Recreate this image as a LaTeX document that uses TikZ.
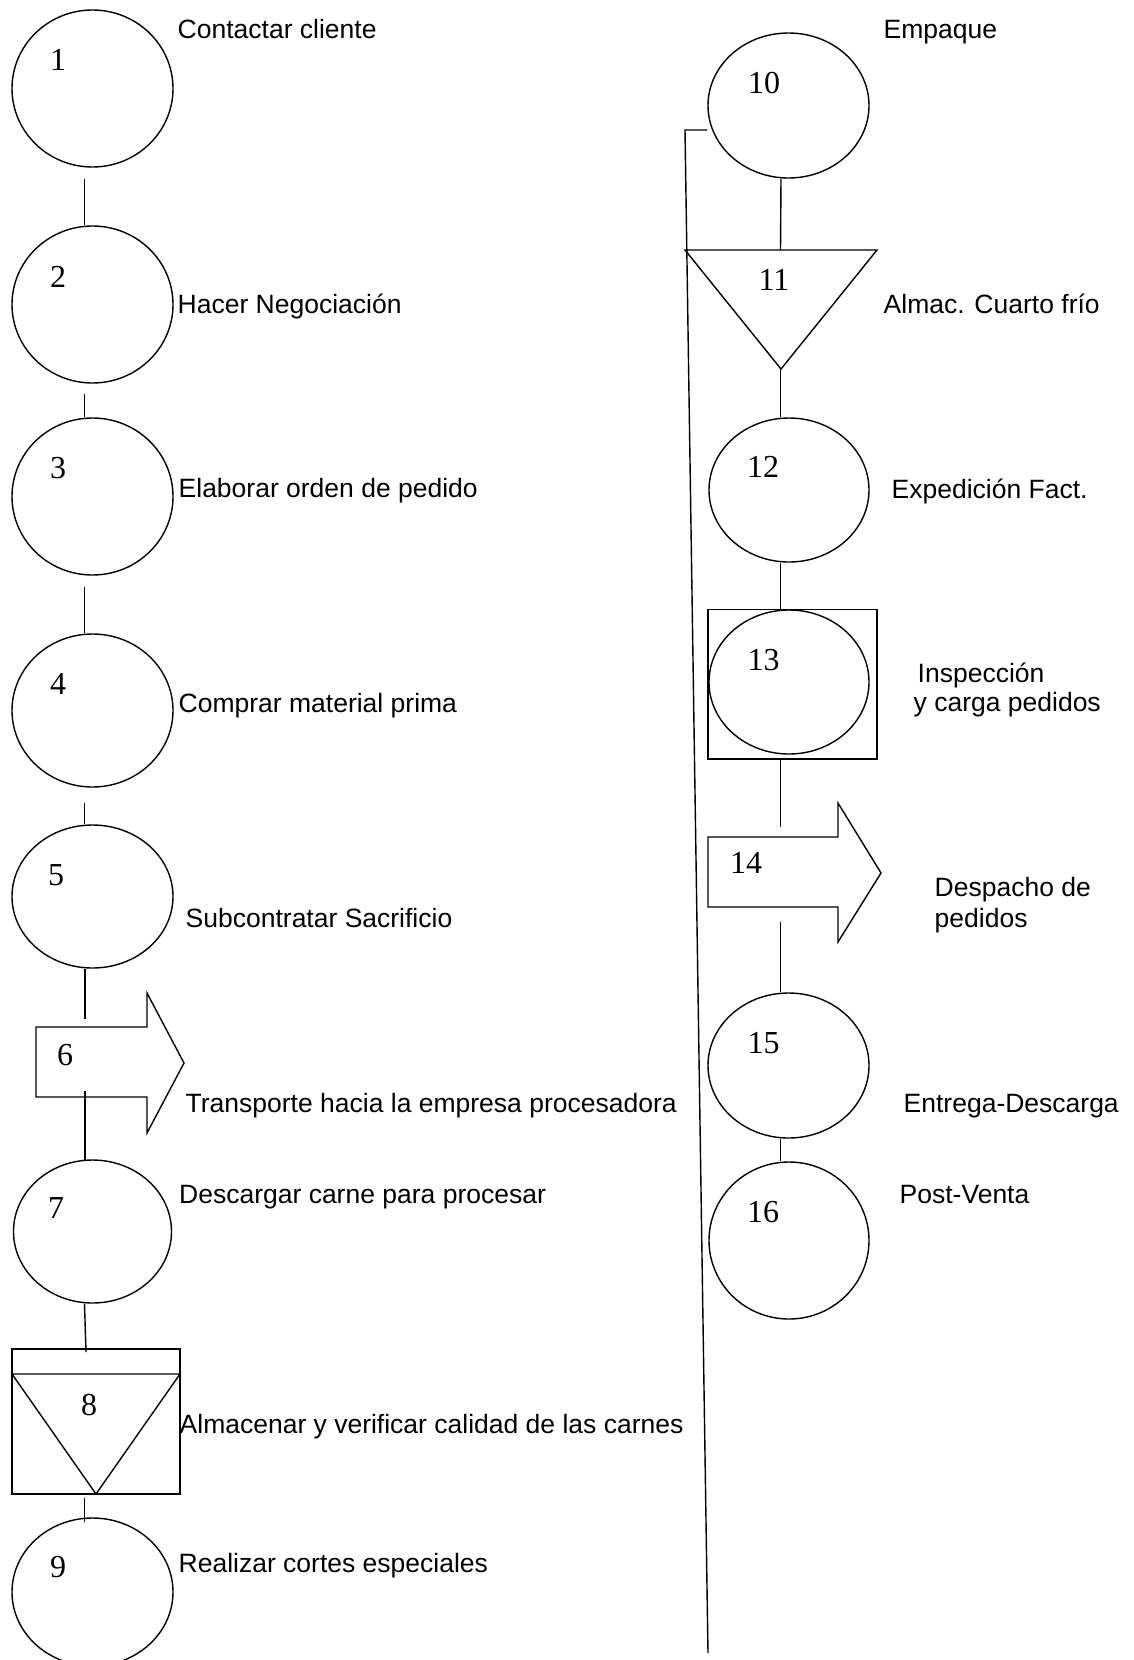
\documentclass[tikz,border=0pt]{standalone}
\usepackage{fontspec}
\setmainfont{Liberation Sans}
\newfontfamily\numfont{Liberation Serif}
\usetikzlibrary{shapes.geometric}
\begin{document}
\begin{tikzpicture}[x=1pt,y=-1pt,line width=1.4pt,
  proc/.style={draw,ellipse,inner sep=0pt,minimum width=161pt,minimum height=#1},
  box/.style={inner sep=0pt,outer sep=0pt},
  num/.style={inner sep=0pt,font=\numfont\fontsize{32}{36}\selectfont},
  lbl/.style={inner sep=0pt,anchor=base west,font=\fontsize{26.5}{31}\selectfont}]
\useasboundingbox (0,0) rectangle (1134,1660);

% ---------- left column ----------
\node[proc=157pt] (c1) at (92.5,88.5) {};
\node[proc=157pt] (c2) at (92.5,304.5) {};
\node[proc=157pt] (c3) at (92.5,496.5) {};
\node[proc=153pt] (c4) at (92.5,710.5) {};
\node[proc=143pt] (c5) at (92.5,896.5) {};
\node[box,minimum width=111pt,minimum height=70pt] (a6) at (91.5,1062) {};
\draw (a6.north west) -- (a6.north east) -- ++(0,-34) -- ++(37,70) -- ++(-37,70) -- ++(0,-36) -- (a6.south west) -- cycle;
\node[proc=143pt,minimum width=158pt] (c7) at (92.5,1231.5) {};
\node[box,draw,minimum width=168pt,minimum height=145pt] (b8) at (96,1421.5) {};
\draw ([yshift=-25pt]b8.north west) -- ([yshift=-25pt]b8.north east) -- (b8.south) -- cycle;
\node[proc=148pt] (c9) at (92.5,1592) {};

\draw ([xshift=-8pt,yshift=-11pt]c1.south) -- ([xshift=-8pt]c2.north);
\draw ([xshift=-8pt,yshift=-10pt]c2.south) -- ([xshift=-8pt]c3.north);
\draw ([xshift=-8pt,yshift=-11pt]c3.south) -- ([xshift=-8pt]c4.north);
\draw ([xshift=-8pt,yshift=-15pt]c4.south) -- ([xshift=-8pt]c5.north);
\draw ([xshift=-7.5pt]c5.south) -- ([xshift=-6.5pt,yshift=8pt]a6.north);
\draw ([xshift=-6.5pt,yshift=6pt]a6.south) -- ([xshift=-7.5pt,yshift=-2pt]c7.north);
\draw ([xshift=-8pt]c7.south) -- ([xshift=-10pt,yshift=-3pt]b8.north);
\draw ([xshift=-11.5pt,yshift=-4pt]b8.south) -- ([xshift=-8pt,yshift=-5pt]c9.north);

\node[num] (n1) at (58,60) {1};
\node[num] (n2) at (58,277) {2};
\node[num] (n3) at (58,468) {3};
\node[num] (n4) at (58,684) {4};
\node[num] (n5) at (56,875) {5};
\node[num] (n6) at (65,1055) {6};
\node[num] (n7) at (56,1208) {7};
\node[num] (n8) at (89,1405) {8};
\node[num] (n9) at (58,1567) {9};

\node[lbl] (l1) at (177,38) {Contactar cliente};
\node[lbl] (l2) at (177,313) {Hacer Negociación};
\node[lbl] (l3) at (178,497.5) {Elaborar orden de pedido};
\node[lbl] (l4) at (178,712) {Comprar material prima};
\node[lbl] (l5) at (185,927) {Subcontratar Sacrificio};
\node[lbl] (l6) at (185,1112) {Transporte hacia la empresa procesadora};
\node[lbl] (l7) at (178.5,1203) {Descargar carne para procesar};
\node[lbl] (l8) at (179,1433) {Almacenar y verificar calidad de las carnes};
\node[lbl] (l9) at (178,1572) {Realizar cortes especiales};

% ---------- right column ----------
\node[proc=145pt] (c10) at (788.5,105.5) {};
\node[box,minimum width=192pt,minimum height=119pt] (t11) at (781,309.5) {};
\draw (t11.north west) -- (t11.north east) -- (t11.south) -- cycle;
\node[proc=144pt,minimum width=160pt] (c12) at (789,490) {};
\node[box,draw,minimum width=169pt,minimum height=149.5pt] (b13) at (792.5,684.3) {};
\node[proc=144pt,minimum width=160pt] (e13) at (789,682) {};
\node[box,minimum width=130pt,minimum height=70pt] (a14) at (773,872) {};
\draw (a14.north west) -- (a14.north east) -- ++(0,-34) -- ++(43,70) -- ++(-43,69) -- ++(0,-35) -- (a14.south west) -- cycle;
\node[proc=145pt] (c15) at (788.5,1065.5) {};
\node[proc=157pt,minimum width=160pt] (c16) at (789,1240.5) {};

\coordinate (bk1) at (685,130);
\coordinate (bk2) at (708,1653);
\draw ([yshift=-24.5pt]c10.west) -- (bk1) -- (bk2);

\draw ([xshift=-7.5pt]c10.south) -- ([xshift=-0.5pt]t11.north);
\draw ([xshift=-0.5pt]t11.south) -- ([xshift=-8.5pt]c12.north);
\draw ([xshift=-8.5pt]c12.south) -- ([xshift=-12pt]b13.north);
\draw ([xshift=-12pt]b13.south) -- ([xshift=7.5pt,yshift=10pt]a14.north);
\draw ([xshift=7.5pt,yshift=-15pt]a14.south) -- ([xshift=-8pt]c15.north);
\draw ([xshift=-8pt]c15.south) -- ([xshift=-8.5pt]c16.north);

\node[num] (n10) at (764,83) {10};
\node[num] (n11) at (774,280) {11};
\node[num] (n12) at (763,467) {12};
\node[num] (n13) at (763.5,660) {13};
\node[num] (n14) at (746,863) {14};
\node[num] (n15) at (763.5,1043) {15};
\node[num] (n16) at (763,1212) {16};

\node[lbl] (l10) at (883,38) {Empaque};
\node[lbl] (l11) at (883,313) {Almac. Cuarto frío};
\node[lbl] (l12) at (891,498) {Expedición Fact.};
\node[lbl] (l13a) at (917,682) {Inspección};
\node[lbl] (l13b) at (913,711) {y carga pedidos};
\node[lbl] (l14a) at (934,896) {Despacho de};
\node[lbl] (l14b) at (934,927) {pedidos};
\node[lbl] (l15) at (903,1112) {Entrega-Descarga};
\node[lbl] (l16) at (899,1203) {Post-Venta};
\end{tikzpicture}
\end{document}
